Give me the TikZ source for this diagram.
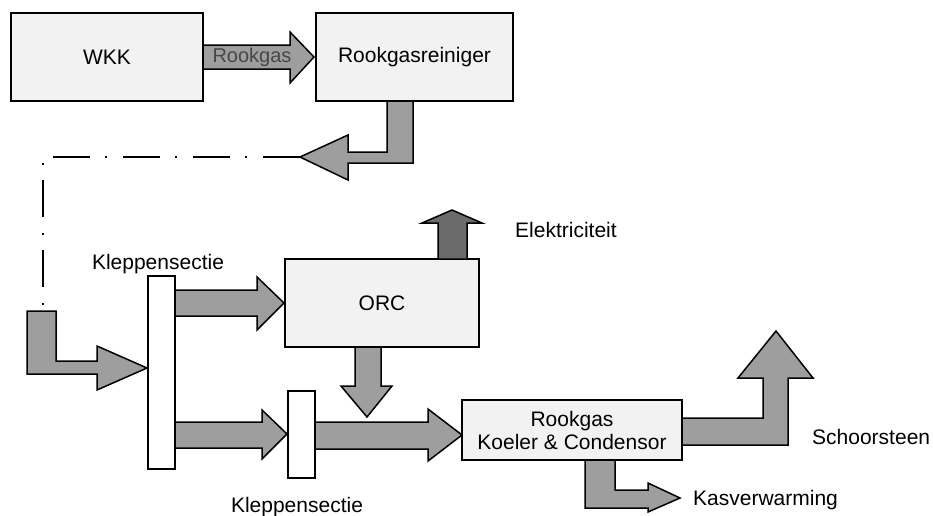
\documentclass[tikz,border=0pt]{standalone}
\usepackage{fontspec}
\setmainfont{Liberation Sans}
\begin{document}
\begin{tikzpicture}[x=1pt,y=-1pt,
  box/.style={draw=black,line width=1.3pt,fill=black!5,inner sep=0pt,font=\fontsize{21}{24}\selectfont},
  valve/.style={draw=black,line width=1.2pt,fill=white,inner sep=0pt},
  blockarrow/.style={draw=black,line width=1.5pt,fill=black!38,line join=miter},
  darkarrow/.style={draw=black,line width=1.5pt,fill=black!58,line join=miter},
  lbl/.style={inner sep=0pt,font=\fontsize{21}{24}\selectfont},
  dashdot/.style={line width=1.8pt,dash pattern=on 37pt off 16pt on 2pt off 15pt}
]
\useasboundingbox (0,0) rectangle (933,515);

% boxes
\node[box,minimum width=192pt,minimum height=88pt] (wkk) at (107,57) {WKK};
\node[box,minimum width=197pt,minimum height=88pt] (rein) at (414.5,57) {Rookgasreiniger};
\node[box,minimum width=194pt,minimum height=88pt] (orc) at (382,303) {ORC};
\node[box,minimum width=220pt,minimum height=60pt,align=center] (koel) at (572,430) {Rookgas\\[-1pt]Koeler \& Condensor};
\node[valve,minimum width=27pt,minimum height=193pt] (k1) at (161.5,372.5) {};
\node[valve,minimum width=27pt,minimum height=87pt] (k2) at (301.5,434.5) {};

% WKK -> Rookgasreiniger
\draw[blockarrow] (203,45) -- (290,45) -- (290,32) -- (314,57) -- (290,83) -- (290,69) -- (203,69) -- cycle;
\node[inner sep=0pt,font=\fontsize{20}{24}\selectfont,text=black!72] (rg) at (252,57) {Rookgas};

% Rookgasreiniger -> left
\draw[blockarrow] (387,101) -- (413,101) -- (413,163) -- (348,163) -- (348,180) -- (300,157) -- (348,135) -- (348,152) -- (387,152) -- cycle;
\coordinate (dstart) at (300,157);
\coordinate (dcorner) at (43,157);
\coordinate (dend) at (43,306);
\draw[dashdot] (dstart) -- (dcorner) -- (dend);

% inlet bent arrow -> Kleppensectie 1
\draw[blockarrow] (27,311) -- (56,311) -- (56,361) -- (97,361) -- (97,346) -- (147,368) -- (97,390) -- (97,374) -- (27,374) -- cycle;

% K1 -> ORC
\draw[blockarrow] (175,290) -- (257,290) -- (257,277) -- (284,303) -- (257,330) -- (257,316) -- (175,316) -- cycle;
% K1 -> K2
\draw[blockarrow] (175,422) -- (262,422) -- (262,410) -- (287,434) -- (262,459) -- (262,448) -- (175,448) -- cycle;
% K2 -> Koeler
\draw[blockarrow] (315,422) -- (428,422) -- (428,409) -- (462,435) -- (428,461) -- (428,449) -- (315,449) -- cycle;
% ORC down
\draw[blockarrow] (355,347) -- (381,347) -- (381,386) -- (392,386) -- (367,417) -- (341,386) -- (355,386) -- cycle;
% Elektriciteit
\draw[darkarrow] (438,259) -- (438,223) -- (422,223) -- (452,210) -- (482,223) -- (467,223) -- (467,259) -- cycle;
% Schoorsteen
\draw[blockarrow] (682,418) -- (763,418) -- (763,378) -- (738,378) -- (776,331) -- (813,378) -- (788,378) -- (788,445) -- (682,445) -- cycle;
% Kasverwarming
\draw[blockarrow] (585,460) -- (615,460) -- (615,490) -- (648,490) -- (648,483) -- (680,498) -- (648,512) -- (648,508) -- (585,508) -- cycle;

% labels
\node[lbl,anchor=base] (kl1) at (158,269) {Kleppensectie};
\node[lbl,anchor=base] (kl2) at (297,512) {Kleppensectie};
\node[lbl,anchor=base west] (el) at (515,237) {Elektriciteit};
\node[lbl,anchor=base west] (sch) at (812,444) {Schoorsteen};
\node[lbl,anchor=base west] (kas) at (693,505) {Kasverwarming};
\end{tikzpicture}
\end{document}
